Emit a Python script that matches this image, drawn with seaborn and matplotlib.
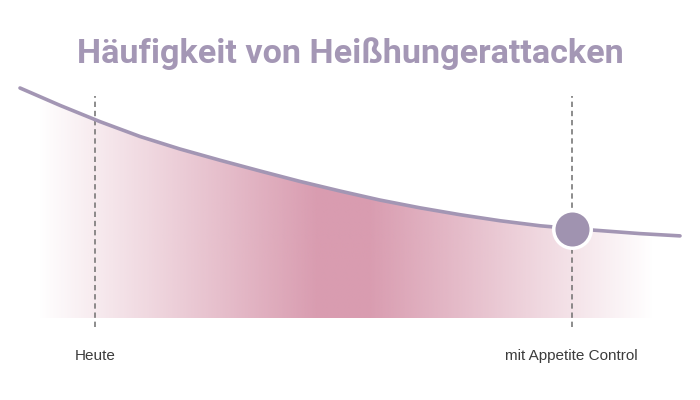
import numpy as np
import pandas as pd
import matplotlib.pyplot as plt
import matplotlib.colors as mcolors
import seaborn as sns

# curve (x = time axis 0..100, y = frequency 0..100)
zeit = [0, 6.1, 12.1, 18.2, 24.2, 30.3, 36.4, 42.4, 48.5, 54.5, 60.6, 66.7,
        72.7, 78.8, 83.6, 87.9, 93.9, 100]
haeufigkeit = [100, 92.4, 85.4, 78.9, 73.5, 68.6, 63.9, 59.4, 55.2, 51.3, 47.9, 44.9,
               42.3, 40.1, 38.9, 38.0, 36.7, 35.7]

# markers on the time axis
punkt_labels = ["Heute", "mit Appetite Control"]
punkt_x = [11.4, 83.6]
ziel_x = 83.6
ziel_y = 38.9

# gradient stops for the pink fill (x position, opacity)
verlauf_x = [2.7, 45, 53, 96]
verlauf_alpha = [0.0, 1.0, 1.0, 0.0]

titel = "Häufigkeit von Heißhungerattacken"

line_color = "#a396b4"
fill_color = "#d99cb0"
title_color = "#a497b5"

sns.set_style("white")
plt.rcParams["font.family"] = ["Liberation Sans", "DejaVu Sans"]

fig = plt.figure(figsize=(7, 4), dpi=100)
ax = fig.add_axes([20 / 700, 82 / 400, 660 / 700, 230 / 400])
ax.set_xlim(0, 100)
ax.set_ylim(0, 100)

df = pd.DataFrame({"zeit": zeit, "haeufigkeit": haeufigkeit})

# gradient fill under the curve
poly = ax.fill_between(df["zeit"], 0, df["haeufigkeit"], facecolor="none", edgecolor="none")
cols = np.linspace(0, 100, 600)
alpha = np.interp(cols, verlauf_x, verlauf_alpha)
rgba = np.zeros((2, len(cols), 4))
rgba[..., :3] = mcolors.to_rgb(fill_color)
rgba[..., 3] = alpha
img = ax.imshow(rgba, extent=[0, 100, 0, 100], aspect="auto", origin="lower", zorder=1)
img.set_clip_path(poly.get_paths()[0], transform=ax.transData)

# dashed guides
for px in punkt_x:
    ax.plot([px, px], [-3.9, 96.5], ls=(0, (3.5, 2.5)), color="#6e6e6e", lw=1.1,
            clip_on=False, zorder=2)

sns.lineplot(data=df, x="zeit", y="haeufigkeit", color=line_color, lw=2.6, ax=ax,
             zorder=3, clip_on=False, solid_capstyle="round", solid_joinstyle="round")
ax.plot([ziel_x], [ziel_y], "o", ms=27, mfc="#a093b0", mec="white", mew=2.5,
        zorder=4, clip_on=False)

for lbl, px in zip(punkt_labels, punkt_x):
    ax.text(px, -16.5, lbl, ha="center", va="center", fontsize=11, color="#3c3c3c")

ax.set_axis_off()

fig.text(0.5, 1 - 54 / 400, titel, ha="center", va="center", fontsize=24.6,
         fontweight="bold", color=title_color, family=["Roboto", "DejaVu Sans"])

fig.savefig("out.png", dpi=100, facecolor="white")
